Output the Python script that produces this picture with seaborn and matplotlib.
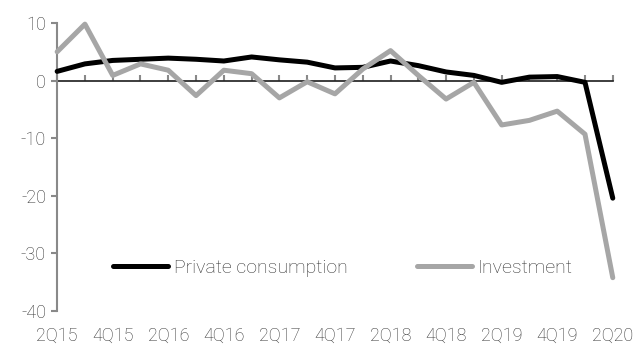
import matplotlib
matplotlib.use("Agg")
import matplotlib.pyplot as plt
import seaborn as sns
import pandas as pd

quarters = ["2Q15", "3Q15", "4Q15", "1Q16", "2Q16", "3Q16", "4Q16", "1Q17",
            "2Q17", "3Q17", "4Q17", "1Q18", "2Q18", "3Q18", "4Q18", "1Q19",
            "2Q19", "3Q19", "4Q19", "1Q20", "2Q20"]
private_consumption = [1.6, 2.9, 3.5, 3.7, 3.9, 3.7, 3.4, 4.1, 3.6, 3.2, 2.2,
                       2.3, 3.4, 2.6, 1.5, 0.9, -0.3, 0.6, 0.7, -0.3, -20.4]
investment = [5.0, 9.8, 0.9, 2.9, 1.8, -2.6, 1.8, 1.2, -3.0, -0.2, -2.3,
              2.0, 5.2, 0.9, -3.2, -0.3, -7.7, -6.9, -5.3, -9.3, -34.2]
y_ticks = [-40, -30, -20, -10, 0, 10]

sns.set_theme(style="white")
plt.rcParams["font.family"] = ["Roboto", "DejaVu Sans"]
plt.rcParams["font.weight"] = "light"

text_color = "#333333"
axis_color = "#898989"

df = pd.DataFrame({
    "pos": list(range(len(quarters))) * 2,
    "value": private_consumption + investment,
    "series": ["Private consumption"] * len(quarters) + ["Investment"] * len(quarters),
})

fig = plt.figure(figsize=(6.35, 3.48), dpi=100)
ax = fig.add_axes([0.09, 0.106, 0.875, 0.828])

sns.lineplot(data=df, x="pos", y="value", hue="series",
             palette={"Private consumption": "#000000", "Investment": "#A6A6A6"},
             linewidth=3.6, ax=ax, legend=True)
for line in ax.lines:
    line.set_solid_capstyle("round")
    line.set_clip_on(False)
    line.set_zorder(3)

ax.set_xlim(0, len(quarters) - 1)
ax.set_ylim(-40, 10)
ax.set_xlabel("")
ax.set_ylabel("")

for side in ["top", "right", "bottom"]:
    ax.spines[side].set_visible(False)
ax.spines["left"].set_color(axis_color)
ax.spines["left"].set_linewidth(1.5)

ax.set_yticks(y_ticks)
ax.set_yticklabels([str(v) for v in y_ticks])
ax.tick_params(axis="y", direction="out", length=4, width=1.5, color=axis_color,
               labelsize=13, labelcolor=text_color, pad=4, left=True)

label_pos = list(range(0, len(quarters), 2))
ax.set_xticks(label_pos)
ax.set_xticklabels([quarters[i] for i in label_pos])
ax.tick_params(axis="x", length=0, labelsize=13, labelcolor=text_color, pad=11)

# category axis crossing at zero, with tick marks at every quarter
zero_frac = (0 - (-40)) / (10 - (-40))
zax = ax.secondary_xaxis(zero_frac)
zax.set_xticks(list(range(len(quarters))))
zax.set_xticklabels([])
zax.tick_params(axis="x", direction="out", length=4, width=1.5, color=axis_color)
zax.spines["bottom"].set_color(axis_color)
zax.spines["bottom"].set_linewidth(1.5)
zax.set_zorder(0)

leg = ax.legend(loc="center left", bbox_to_anchor=(0.087, 0.15), ncol=2,
                frameon=False, fontsize=14, handlelength=2.8, handletextpad=0.3,
                columnspacing=3.6, borderaxespad=0)
for txt in leg.get_texts():
    txt.set_color(text_color)

fig.savefig("out.png", dpi=100)
